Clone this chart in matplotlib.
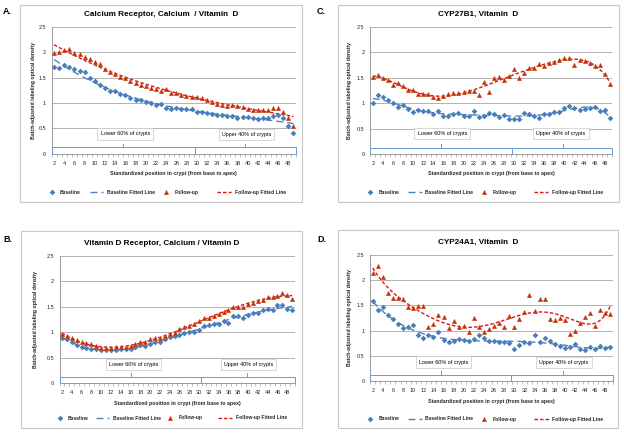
import numpy as np
import matplotlib
matplotlib.use("Agg")
import matplotlib.pyplot as plt
from matplotlib.patches import Rectangle
from matplotlib.lines import Line2D

plt.rcParams['font.family'] = ['Liberation Sans', 'DejaVu Sans']

# ---------------- data ----------------
positions = list(range(2, 50))
tick_labels = [str(v) for v in range(2, 49, 2)]

titles = {
    "A": "Calcium Receptor, Calcium  / Vitamin  D",
    "B": "Vitamin D Receptor, Calcium / Vitamin D",
    "C": "CYP27B1, Vitamin  D",
    "D": "CYP24A1, Vitamin  D",
}

a_baseline = [1.72, 1.70, 1.75, 1.71, 1.68, 1.63, 1.62, 1.49, 1.43, 1.36, 1.30, 1.23,
              1.24, 1.17, 1.15, 1.10, 1.06, 1.05, 1.02, 1.00, 0.97, 0.98, 0.91, 0.89,
              0.91, 0.89, 0.89, 0.89, 0.83, 0.82, 0.80, 0.78, 0.76, 0.76, 0.75, 0.74,
              0.70, 0.73, 0.72, 0.71, 0.69, 0.71, 0.70, 0.74, 0.76, 0.70, 0.55, 0.40]
a_followup = [1.98, 2.01, 2.05, 2.07, 1.98, 1.97, 1.91, 1.87, 1.81, 1.77, 1.68, 1.62,
              1.58, 1.52, 1.49, 1.44, 1.40, 1.36, 1.33, 1.30, 1.28, 1.24, 1.28, 1.20,
              1.20, 1.16, 1.14, 1.11, 1.12, 1.10, 1.05, 1.02, 0.99, 0.97, 0.95, 0.96,
              0.94, 0.93, 0.88, 0.87, 0.87, 0.86, 0.86, 0.90, 0.90, 0.82, 0.70, 0.54]

b_baseline = [0.89, 0.86, 0.80, 0.75, 0.71, 0.68, 0.67, 0.66, 0.64, 0.64, 0.65, 0.65,
              0.67, 0.67, 0.66, 0.70, 0.75, 0.73, 0.77, 0.81, 0.81, 0.86, 0.91, 0.92,
              0.94, 0.99, 1.00, 1.01, 1.04, 1.12, 1.13, 1.15, 1.15, 1.22, 1.17, 1.32,
              1.31, 1.28, 1.34, 1.37, 1.38, 1.44, 1.46, 1.43, 1.54, 1.53, 1.46, 1.44]
b_followup = [0.96, 0.93, 0.88, 0.84, 0.80, 0.79, 0.76, 0.72, 0.69, 0.69, 0.68, 0.70,
              0.70, 0.71, 0.73, 0.76, 0.81, 0.80, 0.86, 0.88, 0.89, 0.92, 0.96, 0.98,
              1.06, 1.09, 1.12, 1.16, 1.22, 1.27, 1.28, 1.32, 1.35, 1.39, 1.43, 1.50,
              1.50, 1.49, 1.56, 1.58, 1.62, 1.63, 1.68, 1.69, 1.71, 1.77, 1.73, 1.65]

c_baseline = [1.00, 1.17, 1.12, 1.06, 1.00, 0.92, 0.96, 0.88, 0.84, 0.87, 0.86, 0.86,
              0.80, 0.86, 0.76, 0.76, 0.79, 0.81, 0.76, 0.76, 0.85, 0.73, 0.76, 0.82,
              0.79, 0.73, 0.77, 0.69, 0.69, 0.70, 0.81, 0.80, 0.76, 0.71, 0.80, 0.80,
              0.84, 0.84, 0.90, 0.94, 0.90, 0.87, 0.88, 0.90, 0.93, 0.86, 0.87, 0.72]
c_followup = [1.52, 1.56, 1.49, 1.45, 1.36, 1.40, 1.35, 1.26, 1.27, 1.18, 1.18, 1.18,
              1.12, 1.10, 1.14, 1.19, 1.21, 1.20, 1.22, 1.25, 1.24, 1.17, 1.42, 1.22,
              1.50, 1.51, 1.46, 1.54, 1.67, 1.50, 1.60, 1.70, 1.69, 1.78, 1.74, 1.80,
              1.82, 1.86, 1.90, 1.89, 1.75, 1.86, 1.84, 1.80, 1.73, 1.75, 1.57, 1.38]

d_baseline = [1.58, 1.40, 1.47, 1.31, 1.23, 1.14, 1.06, 1.07, 1.12, 0.92, 0.85, 0.91,
              0.87, 0.97, 0.82, 0.77, 0.79, 0.83, 0.82, 0.79, 0.83, 0.91, 0.86, 0.80,
              0.79, 0.78, 0.78, 0.75, 0.64, 0.71, 0.77, 0.76, 0.91, 0.77, 0.85, 0.80,
              0.74, 0.69, 0.66, 0.68, 0.74, 0.64, 0.62, 0.67, 0.64, 0.69, 0.65, 0.68]
d_followup = [2.13, 2.27, 2.05, 1.75, 1.64, 1.65, 1.63, 1.47, 1.45, 1.49, 1.49, 1.07,
              1.13, 1.30, 1.27, 1.05, 1.20, 1.08, 1.10, 0.98, 1.25, 1.08, 0.97, 1.04,
              1.10, 1.15, 1.08, 1.28, 1.08, 1.24, 1.37, 1.70, 1.38, 1.62, 1.63, 1.24,
              1.21, 1.25, 1.22, 0.94, 0.99, 1.15, 1.26, 1.35, 1.10, 1.40, 1.34, 1.33]

series_labels = ["Baseline", "Baseline Fitted Line", "Follow-up", "Follow-up Fitted Line"]
region_labels = ["Lower 60% of crypts", "Upper 40% of crypts"]

# ---------------- styling / layout ----------------
BLUE = "#4A7EBB"
BLUE_LINE = "#4F81BD"
RED = "#C0281E"
RED_EDGE = "#D2691E"
RED_LINE = "#E01010"
BRACE = "#6C9BD2"
GRID = "#A6A6A6"

W, H = 624, 434
fig = plt.figure(figsize=(W / 100, H / 100), dpi=100)


def fx(px):
    return px / W


def fy(py):
    return 1 - py / H


panels = {
    "A": dict(plot=(51.5, 296, 27, 153.7), box=(20, 302, 5, 202), ty=14.5, lab=(3, 12),
              ylx=33, xly=174, lgy=192, split=29.6, lm=15.6, um=39.5,
              lt=(16.0, 0.39), ut=(39.8, 0.375), deg=3,
              base=a_baseline, fol=a_followup),
    "B": dict(plot=(59.5, 294.6, 255.7, 383), box=(20.5, 302, 231, 427.5), ty=243.5, lab=(3, 239),
              ylx=36, xly=404, lgy=418, split=30.4, lm=16.0, um=39.8,
              lt=(16.6, 0.36), ut=(40.1, 0.36), deg=4,
              base=b_baseline, fol=b_followup),
    "C": dict(plot=(370.2, 612.3, 27, 154.3), box=(338, 619, 5, 201.5), ty=14.5, lab=(317, 12),
              ylx=350, xly=174, lgy=192, split=29.6, lm=15.6, um=39.7,
              lt=(15.8, 0.41), ut=(39.3, 0.41), deg=6,
              base=c_baseline, fol=c_followup),
    "D": dict(plot=(370.2, 612.9, 254.7, 381.3), box=(338, 618, 230, 427.5), ty=242, lab=(317, 239),
              ylx=350, xly=401, lgy=419, split=29.4, lm=15.6, um=39.6,
              lt=(16.0, 0.38), ut=(39.8, 0.37), deg=6,
              base=d_baseline, fol=d_followup),
}

x = np.array(positions, dtype=float)
xfine = np.linspace(2, 49, 300)

for key, p in panels.items():
    bl, br, bt, bb = p["box"]
    fig.patches.append(Rectangle((fx(bl), fy(bb)), fx(br) - fx(bl), fy(bt) - fy(bb),
                                 transform=fig.transFigure, fill=False,
                                 edgecolor="#C8C8C8", linewidth=0.8))
    fig.text(fx(p["lab"][0]), fy(p["lab"][1]), key + ".", fontsize=6.5,
             fontweight="bold", ha="left", va="center")
    fig.text(fx((bl + br) / 2), fy(p["ty"]), titles[key], fontsize=5.9,
             fontweight="bold", ha="center", va="center")

    l, r, t, b = p["plot"]
    ax = fig.add_axes([fx(l), fy(b), fx(r) - fx(l), fy(t) - fy(b)])
    ax.set_xlim(1.5, 49.5)
    ax.set_ylim(0, 2.5)
    ax.set_yticks([0, 0.5, 1, 1.5, 2, 2.5])
    ax.set_yticklabels(["0", "0.5", "1", "1.5", "2", "2.5"])
    ax.set_xticks(list(range(2, 49, 2)))
    ax.set_xticklabels(tick_labels)
    ax.set_xticks(np.arange(1.5, 50, 1.0), minor=True)
    ax.tick_params(axis="x", which="major", length=0, labelsize=4.0, pad=5)
    ax.tick_params(axis="x", which="minor", length=2, width=0.4, color="#8C8C8C")
    ax.tick_params(axis="y", length=0, labelsize=4.0, pad=4)
    for lbl in ax.get_xticklabels() + ax.get_yticklabels():
        lbl.set_color("#262626")
    ax.grid(axis="y", color=GRID, linewidth=0.6)
    ax.set_axisbelow(True)
    for s in ["top", "right"]:
        ax.spines[s].set_visible(False)
    ax.spines["left"].set_color("#8C8C8C")
    ax.spines["left"].set_linewidth(0.6)
    ax.spines["bottom"].set_color("#8C8C8C")
    ax.spines["bottom"].set_linewidth(0.6)

    base = np.array(p["base"])
    fol = np.array(p["fol"])

    # fitted polynomial trend lines
    cb = np.polyfit(x, base, p["deg"])
    cf = np.polyfit(x, fol, p["deg"])
    ax.plot(xfine, np.polyval(cb, xfine), color=BLUE_LINE, linewidth=1.0,
            dashes=(5, 3), zorder=2)
    ax.plot(xfine, np.polyval(cf, xfine), color=RED_LINE, linewidth=1.0,
            dashes=(2.5, 1.5), zorder=2)

    ax.plot(x, base, linestyle="none", marker="D", markersize=2.9,
            color=BLUE, markeredgewidth=0, zorder=3)
    ax.plot(x, fol, linestyle="none", marker="^", markersize=3.3,
            markerfacecolor=RED, markeredgecolor=RED_EDGE, markeredgewidth=0.3, zorder=4)

    # braces for crypt regions
    yb, ytop = 0.125, 0.2
    sp = p["split"]
    for x0, x1, xm in [(1.5, sp, p["lm"]), (sp, 49.5, p["um"])]:
        ax.plot([x0, x0, x1, x1], [0, yb, yb, 0], color=BRACE, linewidth=0.7,
                clip_on=False, zorder=5)
        ax.plot([xm, xm], [yb, ytop], color=BRACE, linewidth=0.7, zorder=5)
    for (tx, ty), txt in zip([p["lt"], p["ut"]], region_labels):
        ax.text(tx, ty, txt, fontsize=3.9, ha="center", va="center", zorder=6,
                bbox=dict(boxstyle="square,pad=0.6", facecolor="white",
                          edgecolor="#C8C8C8", linewidth=0.5))

    # axis labels
    fig.text(fx(p["ylx"]), fy((t + b) / 2), "Batch-adjusted labeling optical density",
             rotation=90, fontsize=3.7, fontweight="bold", ha="center", va="center",
             color="#262626")
    fig.text(fx((l + r) / 2), fy(p["xly"]), "Standardized position in crypt (from base to apex)",
             fontsize=3.8, fontweight="bold", ha="center", va="center", color="#262626")

    # legend (manual)
    pw = r - l
    ly = fy(p["lgy"])
    fr = dict(m1=0.0, t1=0.035, l2a=0.157, l2b=0.212, t2=0.227,
              m3=0.47, t3=0.505, l4a=0.675, l4b=0.735, t4=0.75)
    fig.add_artist(Line2D([fx(l + fr["m1"] * pw)], [ly], marker="D", markersize=2.9,
                          color=BLUE, markeredgewidth=0, linestyle="none",
                          transform=fig.transFigure))
    fig.add_artist(Line2D([fx(l + fr["l2a"] * pw), fx(l + fr["l2b"] * pw)], [ly, ly],
                          color=BLUE_LINE, linewidth=1.0, dashes=(5, 3),
                          transform=fig.transFigure))
    fig.add_artist(Line2D([fx(l + fr["m3"] * pw)], [ly], marker="^", markersize=3.3,
                          markerfacecolor=RED, markeredgecolor=RED_EDGE,
                          markeredgewidth=0.3, linestyle="none",
                          transform=fig.transFigure))
    fig.add_artist(Line2D([fx(l + fr["l4a"] * pw), fx(l + fr["l4b"] * pw)], [ly, ly],
                          color=RED_LINE, linewidth=1.0, dashes=(2.5, 1.5),
                          transform=fig.transFigure))
    for k, txt in zip(["t1", "t2", "t3", "t4"], series_labels):
        fig.text(fx(l + fr[k] * pw), ly, txt, fontsize=3.6, fontweight="bold",
                 ha="left", va="center", color="#262626")

fig.savefig("out.png", dpi=100, facecolor="white")
